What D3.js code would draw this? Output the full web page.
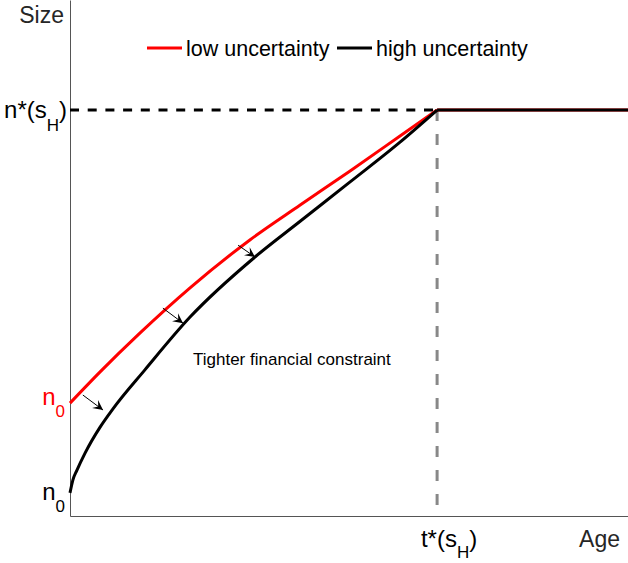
<!DOCTYPE html>
<html>
<head>
<meta charset="utf-8">
<script src="https://cdn.jsdelivr.net/npm/d3@7"></script>
<style>
  body { margin: 0; background: #fff; }
  text { font-family: "Liberation Sans", Arial, sans-serif; }
</style>
</head>
<body>
<div id="chart"></div>
<script>
// data (age normalised so t*(sH) = 1, size normalised so n*(sH) = 1)
var lowAge   = [0, 0.082, 0.191, 0.327, 0.490, 0.627, 0.763, 0.899, 1.0];
var lowSize  = [0.278, 0.355, 0.451, 0.562, 0.680, 0.766, 0.850, 0.936, 1.0];
var highAge  = [0, 0.008, 0.019, 0.041, 0.082, 0.117, 0.204, 0.327, 0.504, 0.627, 0.763, 0.899, 1.0];
var highSize = [0.057, 0.089, 0.113, 0.155, 0.219, 0.264, 0.360, 0.490, 0.638, 0.726, 0.823, 0.921, 1.0];
var maxAge = 1.52;
var tStar = 1.0;
var nStar = 1.0;
// shift arrows: [x0, y0, x1, y1]
var arrows = [
    [0.035, 0.298, 0.090, 0.261],
    [0.253, 0.512, 0.308, 0.475],
    [0.458, 0.667, 0.504, 0.638]
];
var legendLabels = ["low uncertainty", "high uncertainty"];
var legendColors = ["#ff0000", "#000000"];

//svg size
var svgWidth = 628;
var svgHeight = 563;
var margin = {top: 0, right: 0, bottom: 47, left: 70};

var svg = d3.select("#chart")
    .append("svg")
    .attr("width", svgWidth)
    .attr("height", svgHeight);

//scales
var xScale = d3.scaleLinear()
    .domain([0, maxAge])
    .range([margin.left, svgWidth - margin.right]);
var yScale = d3.scaleLinear()
    .domain([0, 1.271])
    .range([svgHeight - margin.bottom, margin.top]);

//axes (no ticks, just the lines)
var axisColor = "#555";
svg.append("g")
    .attr("transform", `translate(0, ${yScale(0)})`)
    .call(d3.axisBottom(xScale).tickValues([]).tickSizeOuter(0))
    .select(".domain").attr("stroke", axisColor);
svg.append("g")
    .attr("transform", `translate(${xScale(0)}, 0)`)
    .call(d3.axisLeft(yScale).tickValues([]).tickSizeOuter(0))
    .select(".domain").attr("stroke", axisColor);

//guide lines
svg.append("line")
    .attr("x1", xScale(tStar)).attr("x2", xScale(tStar))
    .attr("y1", yScale(nStar)).attr("y2", yScale(0))
    .attr("stroke", "#888")
    .attr("stroke-width", 3)
    .attr("stroke-dasharray", "11,13");
svg.append("line")
    .attr("x1", xScale(0)).attr("x2", xScale(tStar))
    .attr("y1", yScale(nStar)).attr("y2", yScale(nStar))
    .attr("stroke", "#000")
    .attr("stroke-width", 3)
    .attr("stroke-dasharray", "9,8.7");

//curves: growth part, then flat part after t*
var line = d3.line()
    .x(d => xScale(d[0]))
    .y(d => yScale(d[1]))
    .curve(d3.curveMonotoneX);
var flat = d3.line()
    .x(d => xScale(d[0]))
    .y(d => yScale(d[1]));

[[lowAge, lowSize], [highAge, highSize]].forEach(function(s, i) {
    svg.append("path")
        .datum(d3.zip(s[0], s[1]))
        .attr("d", line)
        .attr("fill", "none")
        .attr("stroke", legendColors[i])
        .attr("stroke-width", 3);
    svg.append("path")
        .datum([[tStar, nStar], [maxAge, nStar]])
        .attr("d", flat)
        .attr("fill", "none")
        .attr("stroke", legendColors[i])
        .attr("stroke-width", 3);
});

//arrows
svg.append("defs").append("marker")
    .attr("id", "head")
    .attr("viewBox", "-10 -6 12 12")
    .attr("refX", 0)
    .attr("refY", 0)
    .attr("markerWidth", 12)
    .attr("markerHeight", 12)
    .attr("markerUnits", "userSpaceOnUse")
    .attr("orient", "auto")
    .append("path")
    .attr("d", "M0,0 L-10,-5 L-6,0 L-10,5 Z")
    .attr("fill", "#000");

svg.selectAll(".arrow")
    .data(arrows)
    .enter()
    .append("line")
    .attr("class", "arrow")
    .attr("x1", d => xScale(d[0]))
    .attr("y1", d => yScale(d[1]))
    .attr("x2", d => xScale(d[2]))
    .attr("y2", d => yScale(d[3]))
    .attr("stroke", "#000")
    .attr("stroke-width", 1)
    .attr("marker-end", "url(#head)");

svg.append("text")
    .attr("x", 193)
    .attr("y", 365)
    .attr("font-size", 17)
    .attr("fill", "#000")
    .text("Tighter financial constraint");

//legend
var legendX = [147, 337];
legendLabels.forEach(function(lbl, i) {
    svg.append("line")
        .attr("x1", legendX[i]).attr("x2", legendX[i] + 35)
        .attr("y1", 48).attr("y2", 48)
        .attr("stroke", legendColors[i])
        .attr("stroke-width", 3);
    svg.append("text")
        .attr("x", legendX[i] + 39)
        .attr("y", 56)
        .attr("font-size", 21.5)
        .attr("fill", "#000")
        .text(lbl);
});

//axis labels
svg.append("text")
    .attr("x", 64).attr("y", 23)
    .attr("text-anchor", "end")
    .attr("font-size", 23)
    .attr("fill", "#262626")
    .text("Size");
svg.append("text")
    .attr("x", 620).attr("y", 547)
    .attr("text-anchor", "end")
    .attr("font-size", 23)
    .attr("fill", "#262626")
    .text("Age");

//labels with subscripts
function subLabel(x, y, anchor, main, sub, tail, color, drop) {
    var t = svg.append("text")
        .attr("x", x).attr("y", y)
        .attr("text-anchor", anchor)
        .attr("font-size", 24)
        .attr("fill", color);
    t.append("tspan").text(main);
    t.append("tspan").attr("font-size", 17).attr("dy", drop).text(sub);
    if (tail) t.append("tspan").attr("dy", -drop).text(tail);
}
subLabel(67, yScale(nStar) + 8, "end", "n*(s", "H", ")", "#000", 13);
subLabel(xScale(tStar) + 12, 547, "middle", "t*(s", "H", ")", "#000", 11);
subLabel(65, yScale(lowSize[0]) + 2, "end", "n", "0", "", "#ff0000", 12);
subLabel(65, yScale(highSize[0]) + 7, "end", "n", "0", "", "#000", 12);
</script>
</body>
</html>
